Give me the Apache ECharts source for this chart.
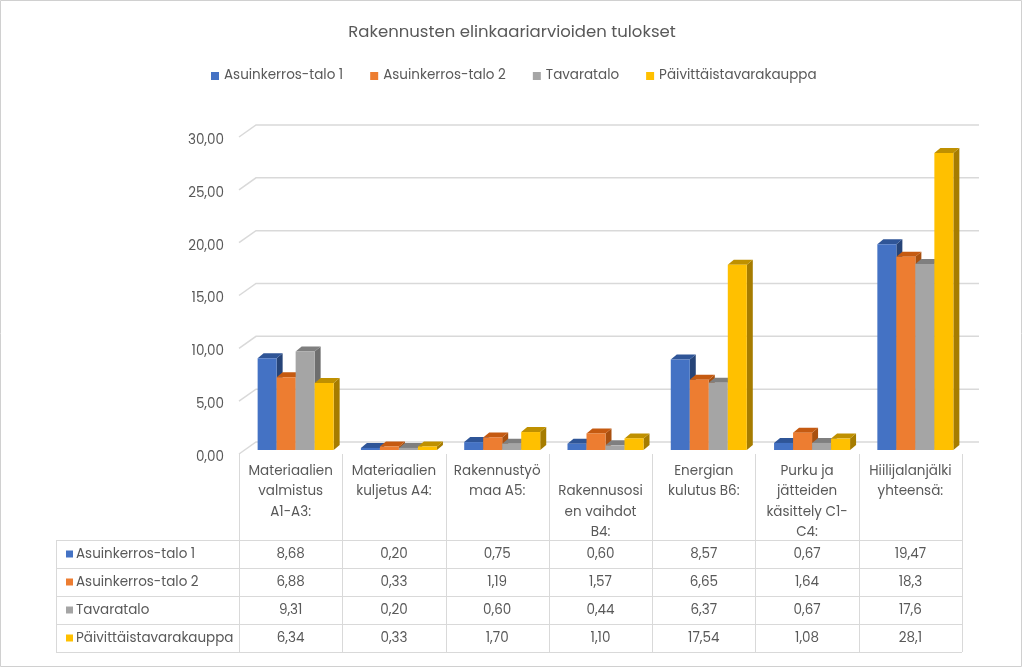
<!DOCTYPE html>
<html><head><meta charset="utf-8">
<script src="https://cdn.jsdelivr.net/npm/echarts@6/dist/echarts.min.js"></script>
<style>html,body{margin:0;padding:0;background:#fff}#c{width:1024px;height:669px}</style>
</head><body><div id="c"></div>
<script>
// ---- data ----
const title = 'Rakennusten elinkaariarvioiden tulokset';
const categories = ['Materiaalien\nvalmistus\nA1-A3:', 'Materiaalien\nkuljetus A4:', 'Rakennustyö\nmaa A5:', '\nRakennusosi\nen vaihdot\nB4:', 'Energian\nkulutus B6:', 'Purku ja\njätteiden\nkäsittely C1-\nC4:', 'Hiilijalanjälki\nyhteensä:'];
const seriesNames = ['Asuinkerros-talo 1', 'Asuinkerros-talo 2', 'Tavaratalo', 'Päivittäistavarakauppa'];
const talo1 = ['8,68', '0,20', '0,75', '0,60', '8,57', '0,67', '19,47'];
const talo2 = ['6,88', '0,33', '1,19', '1,57', '6,65', '1,64', '18,3'];
const tavaratalo = ['9,31', '0,20', '0,60', '0,44', '6,37', '0,67', '17,6'];
const paivittais = ['6,34', '0,33', '1,70', '1,10', '17,54', '1,08', '28,1'];
const yTicks = [0, 5, 10, 15, 20, 25, 30];

// ---- styles ----
const colors = ['#4472C4', '#ED7D31', '#A5A5A5', '#FFC000'];
const topColors = ['#2F5597', '#C55A11', '#7F7F7F', '#BF9000'];
const sideColors = ['#264478', '#A9500F', '#6E6E6E', '#A67C00'];
const FONT = 'Poppins, "Open Sans", sans-serif';
const FS = 13.5;
const TXT = '#595959';
const GRID = {left: 239, top: 137, width: 723, height: 317};
const BAR_DX = 5, BAR_DY = -4, DEPTH_DX = 6, DEPTH_DY = -5;
const WALL_DX = 17, WALL_DY = -12;
const ROW_TOP = 540, ROW_H = 28, TABLE_LEFT = 56;

const allRows = [talo1, talo2, tavaratalo, paivittais];
const num = s => parseFloat(s.replace(',', '.'));

function barRenderer(k) {
  return function (params, api) {
    const i = api.value(0), v = api.value(1);
    const base = api.coord([i, 0]);
    const tp = api.coord([i, v]);
    const band = api.size([1, 0])[0];
    const bw = band * 0.184;
    const x0 = base[0] - 2 * bw + k * bw + BAR_DX;
    const yb = base[1] + BAR_DY;
    const yt = tp[1] + BAR_DY;
    const x1 = x0 + bw;
    return {
      type: 'group', children: [
        {type: 'polygon', shape: {points: [[x1, yb], [x1 + DEPTH_DX, yb + DEPTH_DY], [x1 + DEPTH_DX, yt + DEPTH_DY], [x1, yt]]}, style: {fill: sideColors[k]}},
        {type: 'polygon', shape: {points: [[x0, yt], [x0 + DEPTH_DX, yt + DEPTH_DY], [x1 + DEPTH_DX, yt + DEPTH_DY], [x1, yt]]}, style: {fill: topColors[k]}},
        {type: 'rect', shape: {x: x0, y: yt, width: bw, height: yb - yt}, style: {fill: colors[k]}}
      ]
    };
  };
}

function gridRenderer(params, api) {
  const cs = params.coordSys;
  const y = api.coord([0, api.value(1)])[1];
  const L = cs.x, R = cs.x + cs.width;
  return {
    type: 'polyline',
    shape: {points: [[L, y], [L + WALL_DX, y + WALL_DY], [R + WALL_DX, y + WALL_DY]]},
    style: {stroke: '#D9D9D9', lineWidth: 1.5, fill: null}
  };
}

const chart = echarts.init(document.getElementById('c'), null, {renderer: 'canvas'});
const series = [{
  type: 'custom', name: '_grid', silent: true, z: 1,
  data: yTicks.map(v => [0, v]), encode: {x: 0, y: 1},
  renderItem: gridRenderer
}];
seriesNames.forEach((n, k) => {
  series.push({
    type: 'custom', name: n, z: 2 + k,
    itemStyle: {color: colors[k]},
    data: allRows[k].map((s, i) => [i, num(s)]),
    encode: {x: 0, y: 1},
    renderItem: barRenderer(k)
  });
});

chart.setOption({
  animation: false,
  backgroundColor: '#fff',
  textStyle: {fontFamily: FONT},
  title: {text: title, left: 'center', top: 19, textStyle: {fontFamily: FONT, fontSize: 16.5, fontWeight: 'normal', color: TXT}},
  legend: {
    data: seriesNames, top: 69, left: 211, padding: 0, itemWidth: 8, itemHeight: 8, itemGap: 27,
    icon: 'rect', textStyle: {fontFamily: FONT, fontSize: FS, color: TXT}
  },
  grid: {left: GRID.left, top: GRID.top, width: GRID.width, height: GRID.height, containLabel: false},
  xAxis: {
    type: 'category', data: categories,
    axisLine: {show: false}, axisTick: {show: false},
    axisLabel: {interval: 0, fontFamily: FONT, fontSize: FS, color: TXT, lineHeight: 20.5, verticalAlign: 'top', margin: 7}
  },
  yAxis: {
    type: 'value', min: 0, max: 30, interval: 5,
    splitLine: {show: false}, axisLine: {show: false}, axisTick: {show: false},
    axisLabel: {fontFamily: FONT, fontSize: FS, color: TXT, margin: 15, verticalAlign: 'top', lineHeight: 7, formatter: v => v.toFixed(2).replace('.', ',')}
  },
  series: series
});

// ---- data table & border ----
const g = [];
const bandW = GRID.width / categories.length;
const centers = categories.map((c, i) => chart.convertToPixel({gridIndex: 0}, [i, 0])[0]);
const bottomY = ROW_TOP + ROW_H * seriesNames.length;
const lineStyle = {stroke: '#D9D9D9', lineWidth: 1};
for (let i = 0; i <= categories.length; i++) {
  const x = Math.round(GRID.left + i * bandW) + 0.5;
  g.push({type: 'line', shape: {x1: x, y1: GRID.top + GRID.height, x2: x, y2: bottomY}, style: lineStyle});
}
g.push({type: 'line', shape: {x1: TABLE_LEFT + 0.5, y1: ROW_TOP, x2: TABLE_LEFT + 0.5, y2: bottomY}, style: lineStyle});
for (let r = 0; r <= seriesNames.length; r++) {
  const y = ROW_TOP + r * ROW_H + 0.5;
  g.push({type: 'line', shape: {x1: TABLE_LEFT, y1: y, x2: GRID.left + GRID.width, y2: y}, style: lineStyle});
}
seriesNames.forEach((n, k) => {
  const cy = ROW_TOP + k * ROW_H + ROW_H / 2;
  g.push({type: 'rect', shape: {x: 66, y: cy - 3.5, width: 7, height: 7}, style: {fill: colors[k]}});
  g.push({type: 'text', x: 76, y: cy + 1, style: {text: n, fill: TXT, font: FS + 'px ' + FONT, textVerticalAlign: 'middle', textAlign: 'left'}});
  allRows[k].forEach((s, i) => {
    g.push({type: 'text', x: centers[i], y: cy + 1, style: {text: s, fill: TXT, font: FS + 'px ' + FONT, textVerticalAlign: 'middle', textAlign: 'center'}});
  });
});
g.push({type: 'rect', shape: {x: 0.5, y: 0.5, width: 1021, height: 666}, style: {fill: null, stroke: '#D0D0D0', lineWidth: 1}, z: 10});
chart.setOption({graphic: g});
</script>
</body></html>
